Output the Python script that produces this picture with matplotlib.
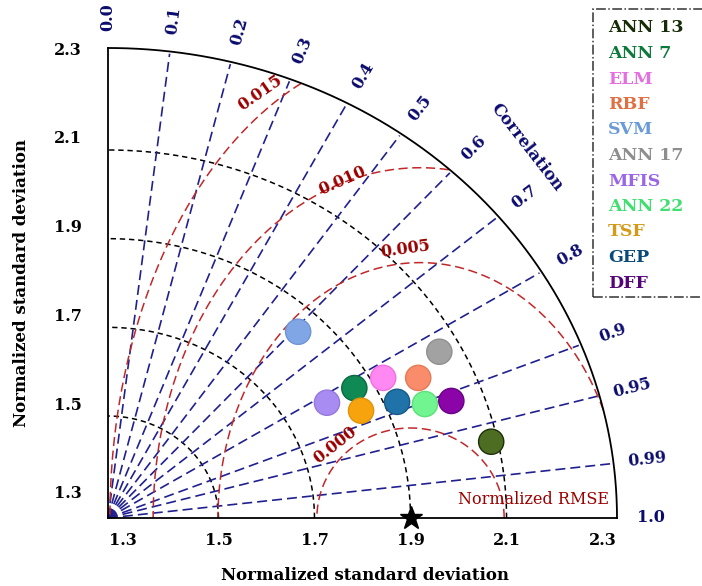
import numpy as np
import matplotlib
matplotlib.use("Agg")
import matplotlib.pyplot as plt
from matplotlib.transforms import offset_copy
from matplotlib.patches import Rectangle

# ---------------- data ----------------
models = ["ANN 13", "ANN 7", "ELM", "RBF", "SVM", "ANN 17",
          "MFIS", "ANN 22", "TSF", "GEP", "DFF"]
sd_x = [2.068, 1.783, 1.843, 1.916, 1.666, 1.960, 1.726, 1.930, 1.797, 1.872, 1.985]
sd_y = [1.442, 1.563, 1.586, 1.586, 1.690, 1.645, 1.530, 1.527, 1.512, 1.532, 1.534]
ref_sd = 1.9
sd_levels = [1.5, 1.7, 1.9, 2.1]
sd_ticks = [1.3, 1.5, 1.7, 1.9, 2.1, 2.3]
corr_ticks = [0.0, 0.1, 0.2, 0.3, 0.4, 0.5, 0.6, 0.7, 0.8, 0.9, 0.95, 0.99, 1.0]
rmse_levels = ["0.000", "0.005", "0.010", "0.015"]

# ---------------- styling ----------------
marker_colors = ["#4d6e22", "#0f8a55", "#ff88f2", "#f98c6a", "#80a6e6", "#a2a2a2",
                 "#a98cf2", "#70f590", "#f7a30e", "#2073a8", "#8a04a8"]
text_colors = ["#162b06", "#0b7a3a", "#e46fe0", "#e07042", "#6a9bd8", "#8e8e8e",
               "#9866e6", "#3fe070", "#d49a18", "#0a4a78", "#56047a"]
edge_colors = ["#1d3008", "#0b6a40", "#f070e0", "#e47a58", "#6f95d6", "#909090",
               "#9678e0", "#5fe07c", "#e29408", "#175a88", "#6a0288"]
navy = "#0c0c6e"
line_blue = "#202090"
dark_red = "#9a0000"
line_red = "#c0282a"
serif = "DejaVu Serif"

origin = 1.27          # centre of the polar frame
rim = 2.33             # outer standard-deviation arc
corr_squash = 0.82     # vertical squeeze applied to the correlation rays
# RMSE contours: (centre, horizontal semi-axis, vertical semi-axis)
rmse_shapes = [(1.900, 0.195, 0.203), (1.920, 0.421, 0.576),
               (1.920, 0.556, 0.790), (1.917, 0.643, 1.060)]
rmse_label_px = [(335, 445, 38), (405, 249, 8), (342, 181, 24), (260, 93, 35)]

W, H = 702, 586
fig = plt.figure(figsize=(W / 100, H / 100), dpi=100)
ax = fig.add_axes([108 / W, (H - 518) / H, 509 / W, 470 / H])
ax.set_xlim(origin, rim)
ax.set_ylim(origin, rim)
ax.axis("off")
R = rim - origin


def fpx(x, y):
    return x / W, 1 - y / H


def corr_dir(c):
    th = np.arccos(c)
    d = np.array([np.cos(th), corr_squash * np.sin(th)])
    return d / np.hypot(*d)


# standard-deviation arcs
t = np.linspace(0, np.pi / 2, 300)
for s in sd_levels:
    r = s - origin
    ax.plot(origin + r * np.cos(t), origin + r * np.sin(t), color="black",
            lw=1.1, ls=(0, (3.5, 2.5)), zorder=2, clip_on=False)
ax.plot(origin + R * np.cos(t), origin + R * np.sin(t), color="black", lw=1.3,
        zorder=3, clip_on=False)
ax.plot([origin, origin], [origin, rim], color="black", lw=1.3, zorder=3, clip_on=False)
ax.plot([origin, rim], [origin, origin], color="black", lw=1.3, zorder=3, clip_on=False)

# correlation rays and labels
for c in corr_ticks:
    d = corr_dir(c)
    if 0.0 < c < 1.0:
        ax.plot([origin, origin + 1.055 * d[0]], [origin, origin + 1.055 * d[1]],
                color=line_blue, lw=1.2, ls=(0, (6, 3)), zorder=2, clip_on=False)
    lx, ly = origin + 1.13 * d[0], origin + 1.13 * d[1]
    p0 = ax.transData.transform((origin, origin))
    p1 = ax.transData.transform((origin + d[0], origin + d[1]))
    rot = np.degrees(np.arctan2(p1[1] - p0[1], p1[0] - p0[0]))
    lab = f"{c:.2f}" if c in (0.95, 0.99) else f"{c:.1f}"
    ax.text(lx, ly, lab, color=navy, fontsize=11.5, fontweight="bold", family=serif,
            rotation=rot, rotation_mode="anchor", ha="center", va="center", clip_on=False)

fig.text(*fpx(527, 147), "Correlation", color=navy, fontsize=12, fontweight="bold",
         family=serif, rotation=-52, rotation_mode="anchor", ha="center", va="center")

# RMSE contours
tt = np.linspace(0, np.pi, 600)
for (cx, a, b), lab, (lx, ly, lr) in zip(rmse_shapes, rmse_levels, rmse_label_px):
    xs = cx + a * np.cos(tt)
    ys = origin + b * np.sin(tt)
    inside = np.hypot(xs - origin, ys - origin) <= R
    xs = np.where(inside, xs, np.nan)
    ys = np.where(inside, ys, np.nan)
    ax.plot(xs, ys, color=line_red, lw=1.1, ls=(0, (6, 3)), zorder=2, clip_on=False)
    fig.text(*fpx(lx, ly), lab, color=dark_red, fontsize=11.5, fontweight="bold",
             family=serif, rotation=lr, rotation_mode="anchor", ha="center", va="center")

fig.text(*fpx(533, 500), "Normalized RMSE", color=dark_red, fontsize=11.5,
         family=serif, ha="center", va="center")

# model points and reference
ax.scatter(sd_x, sd_y, s=330, c=marker_colors, edgecolors=edge_colors,
           linewidths=1.0, zorder=5, clip_on=False)
ax.plot([ref_sd], [origin], marker="*", color="black", markersize=17, zorder=6,
        clip_on=False)

# axis tick labels
xoff = offset_copy(ax.transData, fig=fig, x=0, y=-23, units="dots")
for v in sd_ticks:
    ax.text(v, origin, f"{v:.1f}", transform=xoff, fontsize=11.5, fontweight="bold",
            family=serif, ha="center", va="center", clip_on=False)
yoff = offset_copy(ax.transData, fig=fig, x=-26, y=11, units="dots")
for v in sd_ticks:
    ax.text(origin, v, f"{v:.1f}", transform=yoff, fontsize=11.5, fontweight="bold",
            family=serif, ha="right", va="center", clip_on=False)

fig.text(*fpx(365, 575), "Normalized standard deviation", fontsize=12,
         fontweight="bold", family=serif, ha="center", va="center")
fig.text(*fpx(22, 283), "Normalized standard deviation", fontsize=12,
         fontweight="bold", family=serif, ha="center", va="center", rotation=90)

# legend box
fig.patches.append(Rectangle(fpx(593, 297), 130 / W, 288 / H, transform=fig.transFigure,
                             fill=False, ec="#333333", lw=1.1, ls="-."))
for i, (m, col) in enumerate(zip(models, text_colors)):
    fig.text(*fpx(608, 28 + i * 25.5), m, color=col, fontsize=12.5, fontweight="bold",
             family=serif, ha="left", va="center")

fig.savefig("out.png", dpi=100)
